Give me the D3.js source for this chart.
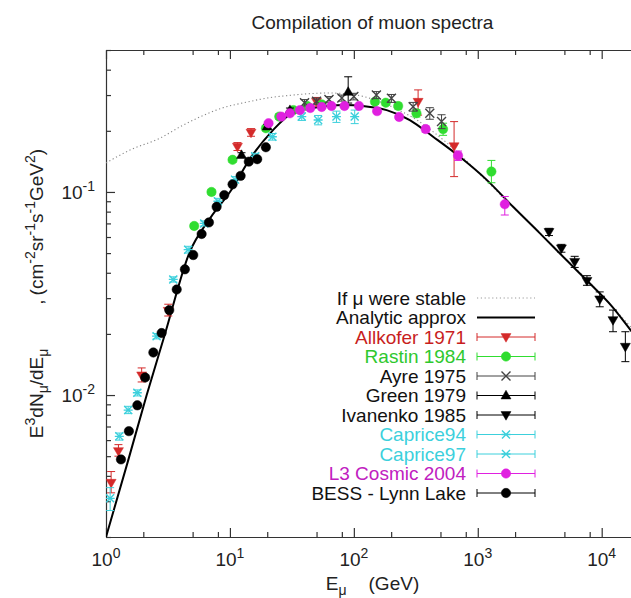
<!DOCTYPE html>
<html><head><meta charset="utf-8">
<script src="https://cdn.jsdelivr.net/npm/d3@7"></script>
<style>
body{margin:0;background:#fff}
text{font-family:"Liberation Sans",Arial,Helvetica,sans-serif}
</style>
</head><body>
<svg id="c" width="631" height="598"></svg>
<script>
// ---------------- data ----------------
const titleText = "Compilation of muon spectra";
const xMajorTicks = [1, 10, 100, 1000, 10000];
const xMajorExp = ["0", "1", "2", "3", "4"];
const xMinorMult = [2, 5, 8];
const yMajorTicks = [0.01, 0.1];
const yMajorExp = ["-2", "-1"];
const yMinorMult = [2, 3, 4, 5, 6, 7, 8, 9];

const stableE = [1, 1.6, 2.73, 4, 5.72, 8.5, 13.7, 20, 32.3, 45, 61, 85, 120, 170, 240, 330, 450, 700, 1200, 2000, 3200, 5000, 8000, 12000, 20000];
const stableV = [0.139, 0.162, 0.184, 0.21, 0.234, 0.258, 0.277, 0.29, 0.300, 0.305, 0.307, 0.305, 0.295, 0.275, 0.25, 0.224, 0.195, 0.155, 0.112, 0.0825, 0.0625, 0.0475, 0.0358, 0.0275, 0.0195];

const analyticE = [1, 1.5, 2.13, 3, 4.7, 7, 10, 15, 22, 32, 45, 61, 85, 118, 184, 283, 436, 716, 1175, 1928, 3162, 5190, 8000, 12000, 17100, 20000];
const analyticV = [0.002, 0.0047, 0.01, 0.0201, 0.05, 0.075, 0.1, 0.15, 0.2, 0.245, 0.258, 0.265, 0.268, 0.265, 0.253, 0.226, 0.187, 0.149, 0.115, 0.0845, 0.0627, 0.0462, 0.0355, 0.0275, 0.0209, 0.0185];

const allkoferE  = [1.1, 1.26, 1.94, 3.18, 11.5, 14.8, 50, 330, 644];
const allkoferV  = [0.0037, 0.0053, 0.0125, 0.026, 0.167, 0.196, 0.278, 0.278, 0.168];
const allkoferLo = [0.0033, 0.0050, 0.0116, 0.0245, 0.160, 0.188, 0.265, 0.239, 0.119];
const allkoferHi = [0.0042, 0.0057, 0.0136, 0.028, 0.175, 0.205, 0.292, 0.318, 0.222];

const rastinE  = [5.15, 7.1, 10.5, 19.5, 25, 32.5, 42, 55, 148, 181, 228, 320, 525, 1288];
const rastinV  = [0.068, 0.1, 0.144, 0.206, 0.235, 0.253, 0.265, 0.27, 0.278, 0.275, 0.265, 0.244, 0.204, 0.126];
const rastinLo = [0.066, 0.097, 0.14, 0.2, 0.228, 0.246, 0.258, 0.262, 0.27, 0.267, 0.256, 0.234, 0.19, 0.111];
const rastinHi = [0.070, 0.103, 0.148, 0.212, 0.242, 0.26, 0.272, 0.278, 0.286, 0.283, 0.274, 0.254, 0.218, 0.143];

const ayreE  = [40, 50, 63, 80, 100, 152, 201, 301, 410, 510];
const ayreV  = [0.275, 0.28, 0.285, 0.29, 0.295, 0.30, 0.289, 0.263, 0.244, 0.222];
const ayreLo = [0.265, 0.27, 0.275, 0.28, 0.284, 0.288, 0.276, 0.25, 0.228, 0.205];
const ayreHi = [0.285, 0.29, 0.295, 0.30, 0.306, 0.312, 0.302, 0.276, 0.26, 0.24];

const greenE  = [12.4, 20, 30.5, 90];
const greenV  = [0.152, 0.21, 0.253, 0.311];
const greenLo = [0.148, 0.205, 0.247, 0.274];
const greenHi = [0.156, 0.215, 0.259, 0.369];

const ivanenkoE  = [3757, 4731, 6054, 7605, 9640, 12340, 15520];
const ivanenkoV  = [0.0636, 0.0528, 0.0453, 0.0365, 0.0296, 0.0234, 0.0173];
const ivanenkoLo = [0.061, 0.0505, 0.0425, 0.0347, 0.0272, 0.0205, 0.0146];
const ivanenkoHi = [0.0662, 0.0552, 0.0482, 0.0387, 0.0322, 0.0262, 0.0205];

const caprice94E  = [1.08, 1.28, 1.51, 1.79, 2.56, 3.49];
const caprice94V  = [0.0031, 0.00626, 0.00843, 0.01026, 0.0195, 0.0371];
const caprice94Lo = [0.0027, 0.006, 0.0081, 0.0099, 0.0189, 0.036];
const caprice94Hi = [0.0035, 0.0065, 0.0088, 0.0106, 0.0201, 0.0382];

const caprice97E  = [4.6, 6.2, 8, 11, 16, 22, 38, 51.5, 72.4, 101.6];
const caprice97V  = [0.052, 0.07, 0.09, 0.115, 0.15, 0.187, 0.235, 0.226, 0.235, 0.235];
const caprice97Lo = [0.05, 0.068, 0.087, 0.111, 0.145, 0.18, 0.225, 0.214, 0.22, 0.217];
const caprice97Hi = [0.054, 0.072, 0.093, 0.119, 0.155, 0.194, 0.245, 0.238, 0.25, 0.253];

const l3E  = [20.5, 26, 30.5, 36.7, 44.5, 55, 66, 84, 110, 154, 232, 380, 693, 1652];
const l3V  = [0.218, 0.235, 0.244, 0.253, 0.259, 0.262, 0.265, 0.265, 0.265, 0.25, 0.234, 0.204, 0.151, 0.087];
const l3Lo = [0.214, 0.231, 0.240, 0.249, 0.255, 0.258, 0.261, 0.261, 0.261, 0.245, 0.228, 0.197, 0.143, 0.077];
const l3Hi = [0.222, 0.239, 0.248, 0.257, 0.263, 0.266, 0.269, 0.269, 0.269, 0.255, 0.24, 0.211, 0.159, 0.095];

const bessE = [1.32, 1.53, 1.79, 2.07, 2.41, 2.81, 3.24, 3.72, 4.33, 5.06, 5.91, 6.77, 7.81, 9.0, 10.5, 12.2, 14.2, 16.6, 19.5];
const bessV = [0.00482, 0.00664, 0.0089, 0.0122, 0.0162, 0.0202, 0.0262, 0.0331, 0.0416, 0.0489, 0.0621, 0.0708, 0.0845, 0.0965, 0.109, 0.120, 0.141, 0.145, 0.166];

const legendLabels = ["If \u03bc were stable", "Analytic approx", "Allkofer 1971", "Rastin 1984", "Ayre 1975", "Green 1979", "Ivanenko 1985", "Caprice94", "Caprice97", "L3 Cosmic 2004", "BESS - Lynn Lake"];

// ---------------- setup ----------------
const svg = d3.select("#c");
const L = 106, T = 50, B = 537, R = 639;
const x = d3.scaleLog().domain([1, 2e4]).range([L, R]);
const y = d3.scaleLog().domain([0.002, 0.5]).range([B, T]);
const FS = 19;
const axisColor = "#333";

svg.append("defs").append("clipPath").attr("id", "clip")
  .append("rect").attr("x", L).attr("y", T).attr("width", R - L).attr("height", B - T);

const xMinor = [], yMinor = [];
for (let k = 0; k <= 4; k++) xMinorMult.forEach(m => { const v = m * Math.pow(10, k); if (v <= 2e4) xMinor.push(v); });
for (let k = -3; k <= -1; k++) yMinorMult.forEach(m => { const v = m * Math.pow(10, k); if (v >= 0.002 && v <= 0.5) yMinor.push(v); });

function styleAxis(g) {
  g.selectAll("path,line").attr("stroke", axisColor).attr("stroke-width", 1.2);
  g.selectAll("text").remove();
}
// bottom
svg.append("g").attr("transform", `translate(0,${B})`)
  .call(d3.axisBottom(x).tickValues(xMajorTicks).tickSize(-9).tickSizeOuter(0)).call(styleAxis);
svg.append("g").attr("transform", `translate(0,${B})`)
  .call(d3.axisBottom(x).tickValues(xMinor).tickSize(-5).tickSizeOuter(0)).call(styleAxis)
  .select(".domain").remove();
// top
svg.append("g").attr("transform", `translate(0,${T})`)
  .call(d3.axisTop(x).tickValues(xMajorTicks).tickSize(-9).tickSizeOuter(0)).call(styleAxis);
svg.append("g").attr("transform", `translate(0,${T})`)
  .call(d3.axisTop(x).tickValues(xMinor).tickSize(-5).tickSizeOuter(0)).call(styleAxis)
  .select(".domain").remove();
// left
svg.append("g").attr("transform", `translate(${L},0)`)
  .call(d3.axisLeft(y).tickValues(yMajorTicks).tickSize(-9).tickSizeOuter(0)).call(styleAxis);
svg.append("g").attr("transform", `translate(${L},0)`)
  .call(d3.axisLeft(y).tickValues(yMinor).tickSize(-5).tickSizeOuter(0)).call(styleAxis)
  .select(".domain").remove();

// tick labels
xMajorTicks.forEach((v, i) => {
  const t = svg.append("text").attr("x", x(v)).attr("y", 566).attr("text-anchor", "middle")
    .attr("font-size", FS).attr("fill", "#222");
  t.append("tspan").text("10");
  t.append("tspan").attr("dy", -8).attr("font-size", 14).text(xMajorExp[i]);
});
yMajorTicks.forEach((v, i) => {
  const t = svg.append("text").attr("x", 95).attr("y", y(v) + 7).attr("text-anchor", "end")
    .attr("font-size", FS).attr("fill", "#222");
  t.append("tspan").text("10");
  t.append("tspan").attr("dy", -8).attr("font-size", 14).text(yMajorExp[i]);
});

// title
svg.append("text").attr("x", (L + R) / 2).attr("y", 29).attr("text-anchor", "middle")
  .attr("font-size", FS).attr("fill", "#222").text(titleText);

// x label
{
  const t = svg.append("text").attr("x", (L + R) / 2).attr("y", 590).attr("text-anchor", "middle")
    .attr("font-size", FS).attr("fill", "#222");
  t.append("tspan").text("E");
  t.append("tspan").attr("dy", 5).attr("font-size", 14).text("\u03bc");
  t.append("tspan").attr("dy", -5).attr("dx", 22).text("(GeV)");
}
// y label
{
  const t = svg.append("text").attr("transform", `translate(43,${(T + B) / 2}) rotate(-90)`)
    .attr("text-anchor", "middle").attr("font-size", FS).attr("fill", "#222");
  t.append("tspan").text("E");
  t.append("tspan").attr("dy", -8).attr("font-size", 14).text("3");
  t.append("tspan").attr("dy", 8).text("dN");
  t.append("tspan").attr("dy", 5).attr("font-size", 14).text("\u03bc");
  t.append("tspan").attr("dy", -5).text("/dE");
  t.append("tspan").attr("dy", 5).attr("font-size", 14).text("\u03bc");
  t.append("tspan").attr("dy", -5).attr("dx", 44).text(",");
  t.append("tspan").attr("dx", 4).text("(cm");
  t.append("tspan").attr("dy", -8).attr("font-size", 14).text("-2");
  t.append("tspan").attr("dy", 8).text("sr");
  t.append("tspan").attr("dy", -8).attr("font-size", 14).text("-1");
  t.append("tspan").attr("dy", 8).text("s");
  t.append("tspan").attr("dy", -8).attr("font-size", 14).text("-1");
  t.append("tspan").attr("dy", 8).text("GeV");
  t.append("tspan").attr("dy", -8).attr("font-size", 14).text("2");
  t.append("tspan").attr("dy", 8).text(")");
}

// ---------------- curves ----------------
const plot = svg.append("g").attr("clip-path", "url(#clip)");
const line = d3.line().x(d => x(d[0])).y(d => y(d[1])).curve(d3.curveMonotoneX);
plot.append("path").datum(d3.zip(stableE, stableV)).attr("d", line)
  .attr("fill", "none").attr("stroke", "#888").attr("stroke-width", 1.1).attr("stroke-dasharray", "1.2,2.6");
plot.append("path").datum(d3.zip(analyticE, analyticV)).attr("d", line)
  .attr("fill", "none").attr("stroke", "#000").attr("stroke-width", 2);

// ---------------- markers ----------------
const markers = {
  circle: {d: d3.symbol(d3.symbolCircle, Math.PI * 4.7 * 4.7)(), fill: true},
  triDown: {d: "M0,5.2L5,-3.4L-5,-3.4Z", fill: true},
  triUp: {d: "M0,-5.2L5,3.4L-5,3.4Z", fill: true},
  times: {d: "M-4.5,-4.5L4.5,4.5M-4.5,4.5L4.5,-4.5", fill: false},
  star: {d: "M-4,-4L4,4M-4,4L4,-4M-4.5,0L4.5,0", fill: false}
};
function drawMarker(g, cx, cy, type, color) {
  const m = markers[type];
  g.append("path").attr("d", m.d).attr("transform", `translate(${cx},${cy})`)
    .attr("fill", m.fill ? color : "none").attr("stroke", color).attr("stroke-width", m.fill ? 0.5 : 1.4);
}
function drawSeries(E, V, Lo, Hi, type, color) {
  const g = plot.append("g");
  E.forEach((e, i) => {
    const cx = x(e), cy = y(V[i]);
    if (Lo && Hi) {
      const y1 = y(Lo[i]), y2 = y(Hi[i]);
      g.append("line").attr("x1", cx).attr("x2", cx).attr("y1", y1).attr("y2", y2).attr("stroke", color).attr("stroke-width", 1);
      [y1, y2].forEach(yy => g.append("line").attr("x1", cx - 4).attr("x2", cx + 4).attr("y1", yy).attr("y2", yy).attr("stroke", color).attr("stroke-width", 1));
    }
    drawMarker(g, cx, cy, type, color);
  });
}
const C = {
  allkofer: "#d42a2a", rastin: "#30dd30", ayre: "#444", green: "#000", ivanenko: "#000",
  caprice: "#3cd0dc", l3: "#e020e0", bess: "#000"
};
drawSeries(allkoferE, allkoferV, allkoferLo, allkoferHi, "triDown", C.allkofer);
drawSeries(rastinE, rastinV, rastinLo, rastinHi, "circle", C.rastin);
drawSeries(ayreE, ayreV, ayreLo, ayreHi, "times", C.ayre);
drawSeries(greenE, greenV, greenLo, greenHi, "triUp", C.green);
drawSeries(ivanenkoE, ivanenkoV, ivanenkoLo, ivanenkoHi, "triDown", C.ivanenko);
drawSeries(caprice94E, caprice94V, caprice94Lo, caprice94Hi, "star", C.caprice);
drawSeries(caprice97E, caprice97V, caprice97Lo, caprice97Hi, "star", C.caprice);
drawSeries(l3E, l3V, l3Lo, l3Hi, "circle", C.l3);
drawSeries(bessE, bessV, null, null, "circle", C.bess);

// ---------------- legend ----------------
const legendStyle = [
  {color: "#222", kind: "dotted"},
  {color: "#222", kind: "solid"},
  {color: C.allkofer, kind: "triDown", text: "#c81e1e"},
  {color: C.rastin, kind: "circle", text: "#2ec82e"},
  {color: C.ayre, kind: "times"},
  {color: "#000", kind: "triUp"},
  {color: "#000", kind: "triDown"},
  {color: C.caprice, kind: "star", text: C.caprice},
  {color: C.caprice, kind: "star", text: C.caprice},
  {color: C.l3, kind: "circle", text: "#c020c0"},
  {color: "#000", kind: "circle"}
];
const lg = svg.append("g");
legendLabels.forEach((lab, i) => {
  const cy = 298 + i * 19.5;
  const st = legendStyle[i];
  lg.append("text").attr("x", 466).attr("y", cy + 6.5).attr("text-anchor", "end")
    .attr("font-size", FS).attr("fill", st.text || "#111").text(lab);
  if (st.kind === "dotted") {
    lg.append("line").attr("x1", 477).attr("x2", 535).attr("y1", cy).attr("y2", cy)
      .attr("stroke", "#999").attr("stroke-width", 1).attr("stroke-dasharray", "1.2,2.6");
  } else if (st.kind === "solid") {
    lg.append("line").attr("x1", 477).attr("x2", 535).attr("y1", cy).attr("y2", cy)
      .attr("stroke", "#000").attr("stroke-width", 2);
  } else {
    lg.append("line").attr("x1", 477).attr("x2", 535).attr("y1", cy).attr("y2", cy)
      .attr("stroke", st.color).attr("stroke-width", 1);
    [477, 535].forEach(xx => lg.append("line").attr("x1", xx).attr("x2", xx).attr("y1", cy - 4).attr("y2", cy + 4)
      .attr("stroke", st.color).attr("stroke-width", 1));
    drawMarker(lg, 506, cy, st.kind, st.color);
  }
});
</script>
</body></html>
